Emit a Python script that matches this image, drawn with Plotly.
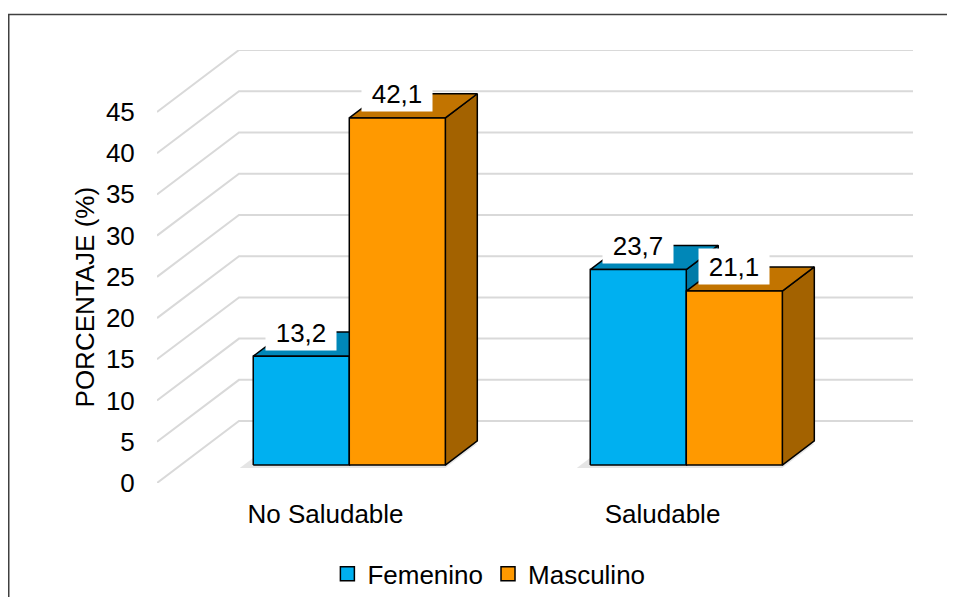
import plotly.graph_objects as go

# ---------------- data ----------------
categories = ["No Saludable", "Saludable"]
series_names = ["Femenino", "Masculino"]
femenino = [13.2, 23.7]
masculino = [42.1, 21.1]
femenino_labels = ["13,2", "23,7"]
masculino_labels = ["42,1", "21,1"]
y_ticks = [0, 5, 10, 15, 20, 25, 30, 35, 40, 45]
y_title = "PORCENTAJE (%)"

# ---------------- style ----------------
FONT = "Liberation Sans, Arial, sans-serif"
FS = 26
front_colors = ["#00B0F0", "#FF9900"]
top_colors = ["#0087B8", "#C27400"]
side_colors = ["#007BA8", "#A36200"]
grid_color = "#D9D9D9"

# 3D geometry (in data units): depth of floor, bar depth fraction, bar width
DX, DY = 0.2433, 7.51
T0, T1 = 0.29, 0.68
BW = 0.285

YMAX = y_ticks[-1]
x_lo, x_hi = -0.5, len(categories) - 0.5

fig = go.Figure()

# back wall / side wall gridlines
gx, gy = [], []
for v in y_ticks:
    gx += [x_lo, x_lo + DX, x_hi + DX, None]
    gy += [v, v + DY, v + DY, None]
fig.add_trace(go.Scatter(x=gx, y=gy, mode="lines", line=dict(color=grid_color, width=2),
                         hoverinfo="skip", showlegend=False))


def poly(xs, ys, fill):
    fig.add_trace(go.Scatter(x=xs + [xs[0]], y=ys + [ys[0]], mode="lines", fill="toself",
                             fillcolor=fill, line=dict(color="black", width=1.5),
                             hoverinfo="skip", showlegend=False))


series = [femenino, masculino]
labels = [femenino_labels, masculino_labels]
offsets = [(-BW, 0.0), (0.0, BW)]
ox0, oy0 = T0 * DX, T0 * DY
ox1, oy1 = T1 * DX, T1 * DY
annots = []

for ci, cat in enumerate(categories):
    # soft shadow under the group
    xl_g = ci - BW + ox0
    xr_g = ci + BW + ox0
    fig.add_trace(go.Scatter(
        x=[xl_g - 0.04, xr_g, xr_g + (ox1 - ox0), xl_g - 0.04 + (ox1 - ox0), xl_g - 0.04],
        y=[oy0 - 0.35, oy0 - 0.35, oy1 - 0.35, oy1 - 0.35, oy0 - 0.35],
        mode="lines", fill="toself", fillcolor="rgba(0,0,0,0.10)", line=dict(width=0),
        hoverinfo="skip", showlegend=False))
    for si, vals in enumerate(series):
        v = vals[ci]
        xl = ci + offsets[si][0]
        xr = ci + offsets[si][1]
        # side face
        poly([xr + ox0, xr + ox1, xr + ox1, xr + ox0],
             [oy0, oy1, v + oy1, v + oy0], side_colors[si])
        # top face
        poly([xl + ox0, xr + ox0, xr + ox1, xl + ox1],
             [v + oy0, v + oy0, v + oy1, v + oy1], top_colors[si])
        # front face
        poly([xl + ox0, xr + ox0, xr + ox0, xl + ox0],
             [oy0, oy0, v + oy0, v + oy0], front_colors[si])
        annots.append(dict(x=(xl + xr) / 2 + ox0, y=v + oy1, xref="x", yref="y",
                           text=labels[si][ci], showarrow=False, bgcolor="white",
                           width=68, height=33, font=dict(family=FONT, size=FS, color="black")))

# legend entries
for si, name in enumerate(series_names):
    fig.add_trace(go.Scatter(x=[None], y=[None], mode="markers", name=name,
                             marker=dict(symbol="square", size=14, color=front_colors[si],
                                         line=dict(color="black", width=1.5))))

# figure size and plot-area margins (pixels)
W, H = 939, 589
L, R, T, B = 149, 34, 41.5, 114
PW, PH = W - L - R, H - T - B

# axis title (centred on the front plane axis)
annots.append(dict(x=(77 - L) / PW, xref="paper", y=YMAX / 2, yref="y", text=y_title,
                   xanchor="center", yanchor="middle",
                   textangle=-90, showarrow=False,
                   font=dict(family=FONT, size=FS, color="black")))

fig.update_layout(
    width=W, height=H,
    margin=dict(l=L, r=R, t=T, b=B, autoexpand=False),
    paper_bgcolor="white", plot_bgcolor="white",
    font=dict(family=FONT, size=FS, color="black"),
    xaxis=dict(range=[x_lo, x_hi + DX], tickvals=list(range(len(categories))),
               ticktext=categories, showgrid=False, zeroline=False, showline=False,
               ticks="outside", ticklen=8, tickcolor="rgba(0,0,0,0)",
               tickfont=dict(family=FONT, size=FS, color="black"), fixedrange=True),
    yaxis=dict(range=[0, YMAX + DY], tickvals=y_ticks, showgrid=False, zeroline=False,
               showline=False, ticks="outside", ticklen=16, tickcolor="rgba(0,0,0,0)",
               tickfont=dict(family=FONT, size=FS, color="black"), fixedrange=True),
    legend=dict(orientation="h", x=0.439, xanchor="center", y=-0.21, yanchor="middle",
                font=dict(family=FONT, size=FS, color="black"), bgcolor="rgba(0,0,0,0)"),
    annotations=annots,
    shapes=[dict(type="rect", xref="paper", yref="paper",
                 x0=(0.75 - L) / PW, x1=2.0,
                 y0=-2.0, y1=(H - B - 6) / PH,
                 line=dict(color="#404040", width=1.5), layer="above")],
)

fig.write_html("out.html")
